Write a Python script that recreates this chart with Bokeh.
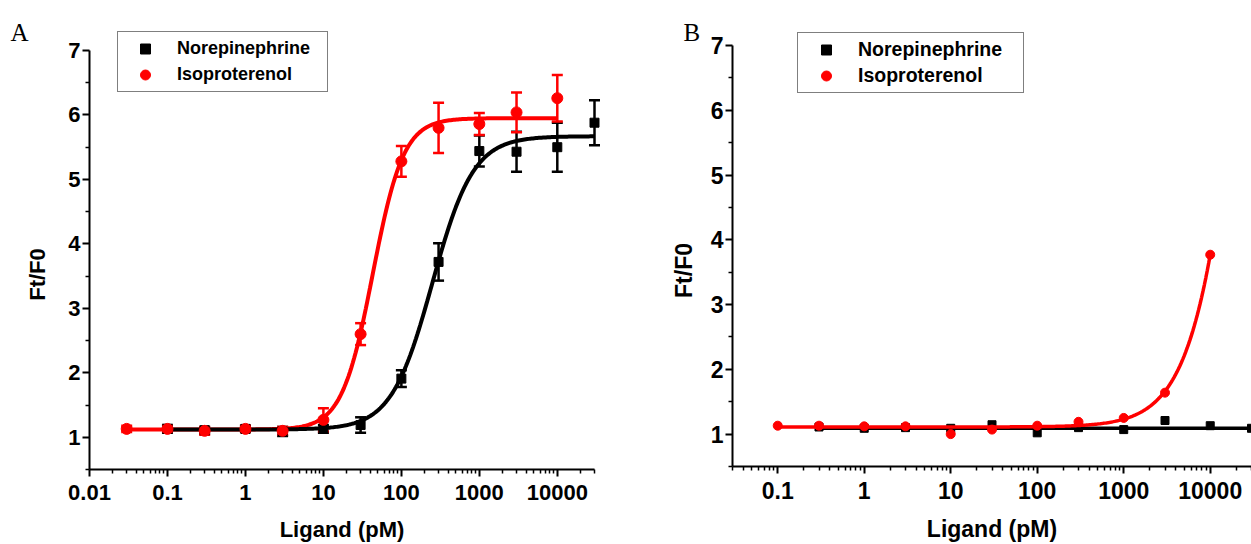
import math
import numpy as np
from bokeh.plotting import figure
from bokeh.models import (ColumnDataSource, Whisker, TeeHead, FixedTicker,
                          CustomJSTickFormatter, Legend, LegendItem, Label, Range1d)
from bokeh.layouts import row
from bokeh.embed import file_html
from bokeh.resources import INLINE

# ---------------- data ----------------
# Panel A
conc_iso_A = [0.03, 0.1, 0.3, 1, 3, 10, 30, 100, 300, 1000, 3000, 10000]
iso_A = [1.13, 1.13, 1.10, 1.13, 1.10, 1.27, 2.60, 5.28, 5.80, 5.86, 6.04, 6.26]
iso_A_err = [0.05, 0.05, 0.06, 0.05, 0.06, 0.18, 0.17, 0.24, 0.39, 0.17, 0.31, 0.36]

conc_ne_A = [0.1, 0.3, 1, 3, 10, 30, 100, 300, 1000, 3000, 10000, 30000]
ne_A = [1.13, 1.11, 1.13, 1.09, 1.13, 1.19, 1.91, 3.72, 5.44, 5.43, 5.50, 5.88]
ne_A_err = [0.06, 0.05, 0.05, 0.07, 0.06, 0.12, 0.13, 0.29, 0.24, 0.31, 0.38, 0.35]

# fitted dose-response curves (bottom, top, EC50 pM, Hill slope, x-start, x-end)
fit_iso_A = [1.12, 5.95, 43.0, 2.2, 0.03, 10000]
fit_ne_A = [1.12, 5.67, 250.0, 1.65, 0.1, 30000]

# Panel B
conc_iso_B = [0.1, 0.3, 1, 3, 10, 30, 100, 300, 1000, 3000, 10000]
iso_B = [1.13, 1.13, 1.12, 1.12, 1.00, 1.07, 1.13, 1.19, 1.25, 1.64, 3.77]

conc_ne_B = [0.3, 1, 3, 10, 30, 100, 300, 1000, 3000, 10000, 30000]
ne_B = [1.11, 1.09, 1.10, 1.09, 1.145, 1.02, 1.10, 1.07, 1.21, 1.13, 1.09]

fit_iso_B = [1.11, 21.0, 38000.0, 1.4, 0.1, 10000]
fit_ne_B = [1.09, 1.09, 1000.0, 1.0, 0.3, 30000]

x_ticks_A = [0.01, 0.1, 1, 10, 100, 1000, 10000]
x_ticks_B = [0.1, 1, 10, 100, 1000, 10000]
y_ticks = [1, 2, 3, 4, 5, 6, 7]
y_minor = [0.5, 1.5, 2.5, 3.5, 4.5, 5.5, 6.5]
legend_labels = ["Norepinephrine", "Isoproterenol"]

RED = "#ff0000"
BLACK = "#000000"
FONT = "Liberation Sans"
H = 544


class Mapper:
    """Pixel layout of one panel: axis box in figure pixels and its data limits."""
    def __init__(self, W, px0, px1, x0, x1, py_top, py_bot, y_top, y_bot):
        self.W, self.px0, self.x0, self.py_bot, self.y_bot = W, px0, x0, py_bot, y_bot
        self.kx = (math.log10(x1) - math.log10(x0)) / (px1 - px0)
        self.ky = (y_top - y_bot) / (py_bot - py_top)
        self.xr = (10 ** (math.log10(x0) - px0 * self.kx), 10 ** (math.log10(x0) + (W - px0) * self.kx))
        self.yr = (y_bot - (H - py_bot) * self.ky, y_bot + py_bot * self.ky)

    def x(self, px):
        return 10 ** (math.log10(self.x0) + (px - self.px0) * self.kx)

    def y(self, py):
        return self.y_bot + (self.py_bot - py) * self.ky


def fit_curve(params):
    bottom, top, ec50, hill, x0, x1 = params
    xs = np.logspace(np.log10(x0), np.log10(x1), 300)
    ys = bottom + (top - bottom) / (1.0 + (ec50 / xs) ** hill)
    return xs, ys


def minor_log(lo, hi):
    vals = [k * 10.0 ** e for e in range(-3, 6) for k in range(2, 10)]
    return [v for v in vals if lo * 0.999 <= v <= hi * 1.001]


def make_fig(m, xb, tick_size, label_size):
    p = figure(width=m.W, height=H, x_axis_type="log",
               x_range=Range1d(*m.xr), y_range=Range1d(*m.yr),
               output_backend="svg", toolbar_location=None,
               min_border=0, min_border_left=0, min_border_right=0,
               min_border_top=0, min_border_bottom=0)
    p.xaxis.fixed_location = 0.5
    p.yaxis.fixed_location = xb[0]
    p.xaxis.bounds = xb
    p.yaxis.bounds = (0.5, 7)
    p.xaxis.formatter = CustomJSTickFormatter(code="return Number(tick.toPrecision(6)).toString();")
    p.yaxis.ticker = FixedTicker(ticks=y_ticks, minor_ticks=y_minor)
    for ax in (p.xaxis[0], p.yaxis[0]):
        ax.axis_line_width = 2
        ax.axis_line_color = BLACK
        ax.major_tick_line_width = 2
        ax.minor_tick_line_width = 1.5
        ax.major_tick_line_color = BLACK
        ax.minor_tick_line_color = BLACK
        ax.major_tick_in = 0
        ax.minor_tick_in = 0
        ax.major_tick_out = 7
        ax.minor_tick_out = 4
        ax.major_label_text_font = FONT
        ax.major_label_text_font_style = "bold"
        ax.major_label_text_font_size = tick_size
        ax.major_label_text_color = BLACK
        ax.axis_label_text_font = FONT
        ax.axis_label_text_font_style = "bold"
        ax.axis_label_text_font_size = label_size
        ax.axis_label_text_color = BLACK
    p.xaxis.major_label_standoff = 8
    p.xaxis.axis_label_standoff = 14
    p.yaxis.major_label_standoff = 2
    p.xaxis.axis_label = "Ligand (pM)"
    p.xgrid.visible = False
    p.ygrid.visible = False
    p.outline_line_color = None
    return p


def add_errors(p, xs, ys, errs, color):
    src = ColumnDataSource(dict(x=xs, lower=[y - e for y, e in zip(ys, errs)],
                                upper=[y + e for y, e in zip(ys, errs)]))
    w = Whisker(base="x", lower="lower", upper="upper", source=src, dimension="height",
                line_color=color, line_width=2.5,
                upper_head=TeeHead(size=11, line_color=color, line_width=2.5),
                lower_head=TeeHead(size=11, line_color=color, line_width=2.5))
    p.add_layout(w)


def make_legend(p, r_ne, r_iso, x, y, glyph_w, standoff, label_w, font_size):
    leg = Legend(items=[LegendItem(label=legend_labels[0], renderers=[r_ne]),
                        LegendItem(label=legend_labels[1], renderers=[r_iso])],
                 location=(x, y), orientation="vertical",
                 padding=4, spacing=1, margin=0,
                 glyph_width=glyph_w, glyph_height=25, label_height=25,
                 label_standoff=standoff, label_width=label_w,
                 label_text_font=FONT, label_text_font_style="bold",
                 label_text_font_size=font_size, label_text_color=BLACK,
                 border_line_color=BLACK, border_line_width=1,
                 background_fill_color="white", background_fill_alpha=1.0)
    p.add_layout(leg, "center")


def add_texts(p, m, letter, lx, ly, ylab_x, ylab_y, ylab_size):
    p.add_layout(Label(x=m.x(lx), y=m.y(ly), text=letter, text_font="Liberation Serif",
                       text_font_size="25px", text_color=BLACK, text_baseline="alphabetic"))
    p.add_layout(Label(x=m.x(ylab_x), y=m.y(ylab_y), text="Ft/F0", angle=math.pi / 2,
                       text_font=FONT, text_font_style="bold", text_font_size=ylab_size,
                       text_color=BLACK, text_align="center", text_baseline="middle"))


# ---------------- Panel A ----------------
mA = Mapper(640, 89, 594, 0.01, 30000, 50, 469, 7, 0.5)
pA = make_fig(mA, (0.01, 30000), "22px", "22px")
pA.xaxis.ticker = FixedTicker(ticks=x_ticks_A, minor_ticks=minor_log(0.01, 30000))

xs, ys = fit_curve(fit_iso_A)
pA.line(xs, ys, line_color=RED, line_width=4)
xs, ys = fit_curve(fit_ne_A)
pA.line(xs, ys, line_color=BLACK, line_width=4)

add_errors(pA, conc_ne_A, ne_A, ne_A_err, BLACK)
rA_ne = pA.scatter(conc_ne_A, ne_A, marker="square", size=9, fill_color=BLACK, line_color=BLACK)
add_errors(pA, conc_iso_A, iso_A, iso_A_err, RED)
rA_iso = pA.scatter(conc_iso_A, iso_A, marker="circle", size=11, fill_color=RED, line_color=RED)

make_legend(pA, rA_ne, rA_iso, 117, H - 92, 46, 9, 146, "18px")
add_texts(pA, mA, "A", 10, 32, 37, 274, "22px")

# ---------------- Panel B ----------------
mB = Mapper(611, 92, 611, 0.03, 30000, 45, 466, 7, 0.5)
pB = make_fig(mB, (0.03, 30000), "23px", "23px")
pB.xaxis.ticker = FixedTicker(ticks=x_ticks_B, minor_ticks=minor_log(0.03, 30000))

xs, ys = fit_curve(fit_ne_B)
pB.line(xs, ys, line_color=BLACK, line_width=3.5)
rB_ne = pB.scatter(conc_ne_B, ne_B, marker="square", size=8, fill_color=BLACK, line_color=BLACK)
xs, ys = fit_curve(fit_iso_B)
pB.line(xs, ys, line_color=RED, line_width=3.5)
rB_iso = pB.scatter(conc_iso_B, iso_B, marker="circle", size=9, fill_color=RED, line_color=RED)

make_legend(pB, rB_ne, rB_iso, 157, H - 93, 48, 8, 161, "19.5px")
add_texts(pB, mB, "B", 43, 32, 43, 270, "23px")

layout = row(pA, pB)
open("out.html", "w").write(file_html(layout, INLINE))
